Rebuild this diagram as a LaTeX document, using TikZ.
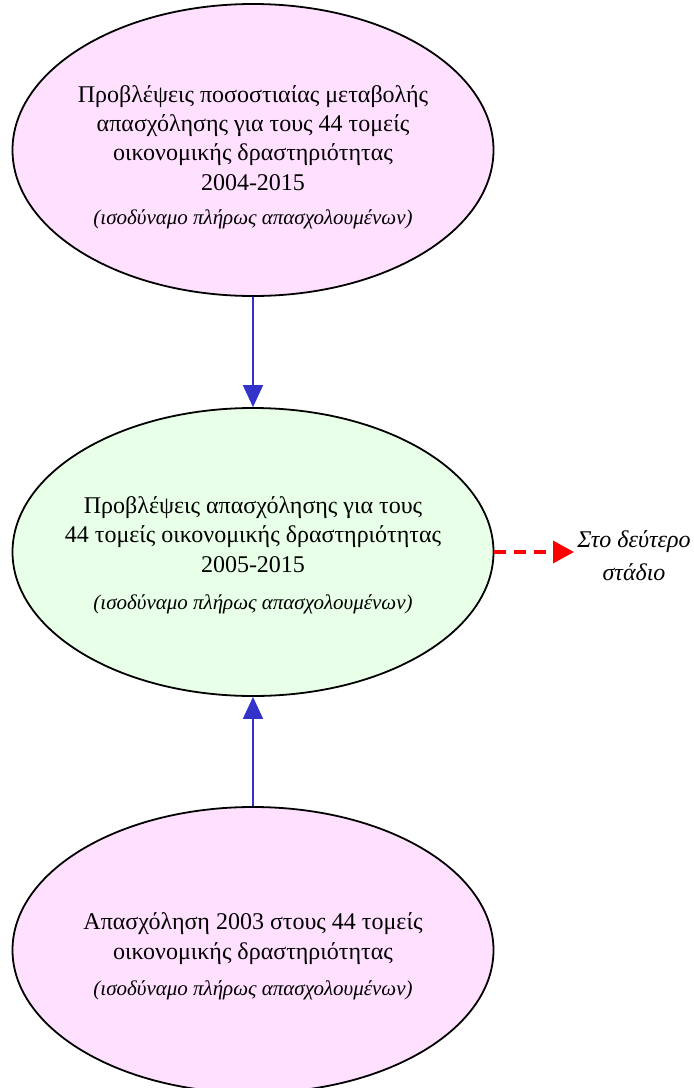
\documentclass[tikz,border=0pt]{standalone}
\usepackage{fontspec}
\setmainfont{Liberation Serif}
\usetikzlibrary{shapes.geometric,arrows.meta}
\definecolor{pinkfill}{RGB}{255,224,255}
\definecolor{greenfill}{RGB}{232,255,232}
\definecolor{arrowblue}{RGB}{51,51,204}
\begin{document}
\begin{tikzpicture}[x=1pt,y=-1pt,
  oval/.style={ellipse,draw=black,line width=1.8pt,minimum width=481pt,minimum height=292pt,inner sep=0pt},
  maintext/.style={align=center,font=\fontsize{24}{29.3}\selectfont},
  subtext/.style={font=\fontsize{21}{24}\selectfont\itshape},
  blueconn/.style={draw=arrowblue,line width=1.6pt,-{Triangle[width=20pt,length=22pt]}},
  redconn/.style={draw=red,line width=3.5pt,dash pattern=on 12pt off 8pt,-{Triangle[width=22pt,length=21pt]}}]
\useasboundingbox (0,0) rectangle (694,1088);
\begin{scope}
\clip (0,0) rectangle (694,1088);
\node[oval,fill=pinkfill] (top) at (253,150) {};
\node[oval,fill=greenfill,minimum height=288pt] (mid) at (253,552) {};
\node[oval,fill=pinkfill,minimum height=286pt] (bot) at (253,950) {};
\end{scope}
\node[maintext,anchor=base] (toptxt) at (253,190) {Προβλέψεις ποσοστιαίας μεταβολής\\απασχόλησης για τους 44 τομείς\\οικονομικής δραστηριότητας\\2004-2015};
\node[subtext,anchor=base] (topsub) at (253,224) {(ισοδύναμο πλήρως απασχολουμένων)};
\node[maintext,anchor=base] (midtxt) at (253,572) {Προβλέψεις απασχόλησης για τους\\44 τομείς οικονομικής δραστηριότητας\\2005-2015};
\node[subtext,anchor=base] (midsub) at (253,609) {(ισοδύναμο πλήρως απασχολουμένων)};
\node[maintext,anchor=base] (bottxt) at (253,959) {Απασχόληση 2003 στους 44 τομείς\\οικονομικής δραστηριότητας};
\node[subtext,anchor=base] (botsub) at (253,995) {(ισοδύναμο πλήρως απασχολουμένων)};
\node[align=center,font=\fontsize{24}{33}\selectfont\itshape,anchor=base] (next) at (634,580) {Στο δεύτερο\\στάδιο};
\coordinate (nextend) at (574,552);
\draw[blueconn] (top.south) -- (mid.north);
\draw[blueconn] (bot.north) -- (mid.south);
\draw[redconn] (mid.east) -- (nextend);
\end{tikzpicture}
\end{document}
